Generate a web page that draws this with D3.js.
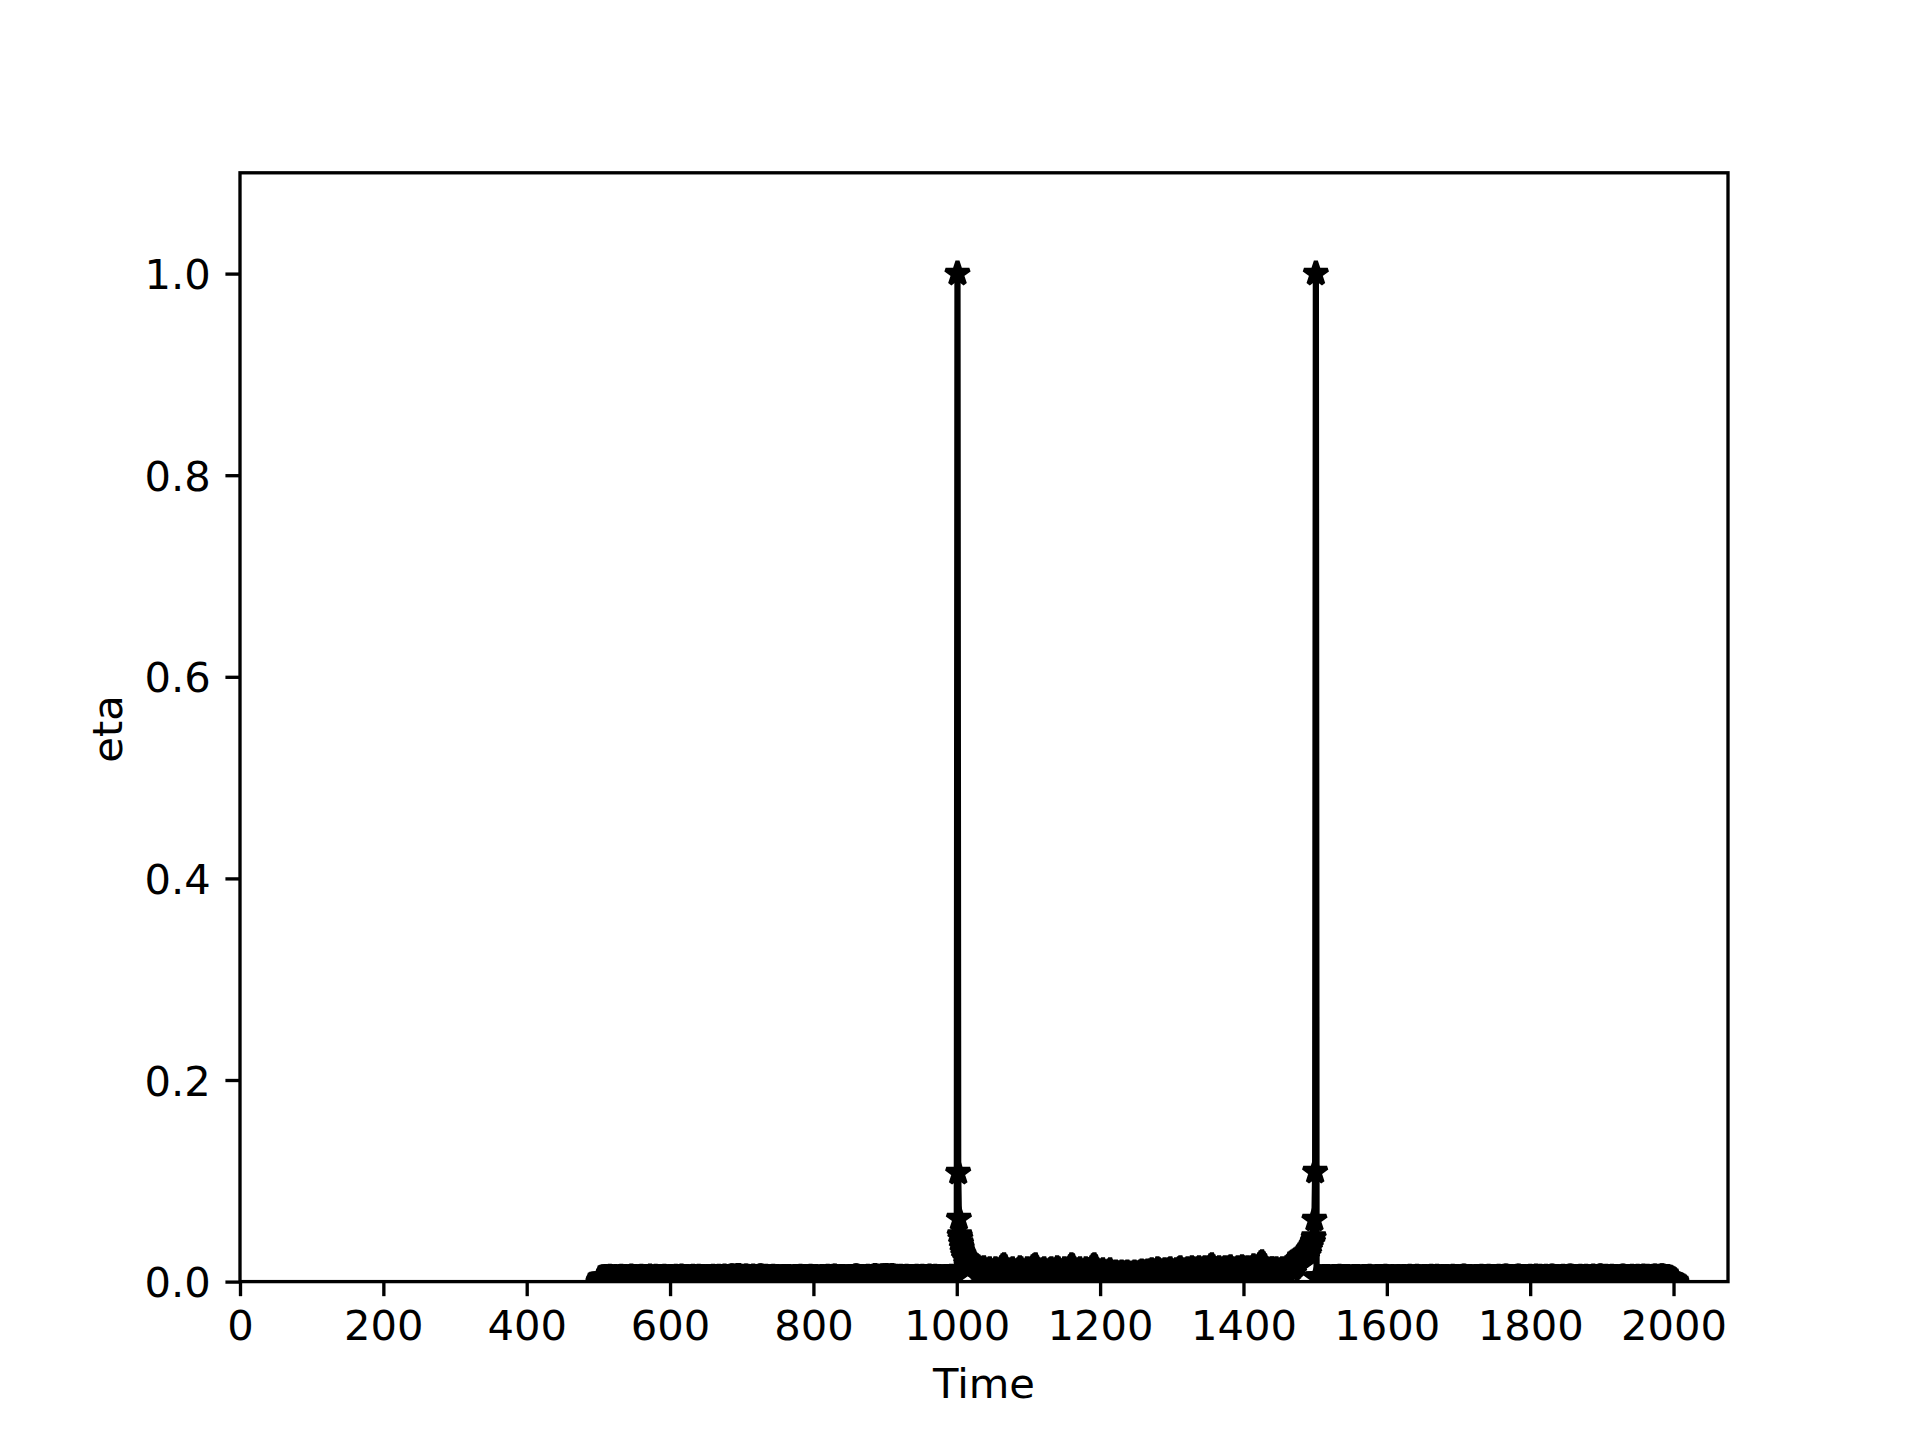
<!DOCTYPE html>
<html>
<head>
<meta charset="utf-8">
<script src="https://cdn.jsdelivr.net/npm/d3@7"></script>
<style>
body { margin: 0; background: #fff; }
text { font-family: "DejaVu Sans", sans-serif; fill: #000; }
</style>
</head>
<body>
<div id="chart"></div>
<script>
// segment before the first spike: t = 500, 502, ... 998
const etaAStart = 500, etaAStep = 2;
const etaA = [
  0, .0031, .0038, .0042, .0040, .0044, .0039, .0041, .0046, .0043, .0038, .0042, .0045, .0040, .0037, .0043, .0047, .0041, .0039, .0044, .0042, .0038, .0045, .0049, .0043,
  .0040, .0044, .0041, .0037, .0043, .0046, .0042, .0039, .0044, .0040, .0045, .0048, .0042, .0038, .0041, .0046, .0043, .0040, .0044, .0039, .0042, .0047, .0044, .0040, .0038,
  .0043, .0045, .0041, .0039, .0046, .0042, .0040, .0044, .0048, .0043, .0039, .0041, .0045, .0042, .0038, .0044, .0047, .0043, .0040, .0042, .0046, .0041, .0039, .0044, .0042,
  .0040, .0045, .0043, .0039, .0042, .0047, .0044, .0040, .0043, .0046, .0042, .0038, .0044, .0049, .0045, .0041, .0043, .0047, .0051, .0048, .0044, .0046, .0053, .0055, .0049,
  .0045, .0042, .0046, .0050, .0047, .0043, .0041, .0045, .0048, .0044, .0040, .0043, .0047, .0052, .0049, .0045, .0042, .0046, .0044, .0041, .0039, .0043, .0046, .0042, .0040,
  .0044, .0041, .0038, .0042, .0045, .0043, .0039, .0041, .0044, .0040, .0037, .0042, .0045, .0041, .0039, .0043, .0046, .0042, .0040, .0044, .0041, .0038, .0043, .0047, .0044,
  .0041, .0039, .0043, .0040, .0037, .0042, .0045, .0041, .0038, .0044, .0047, .0043, .0040, .0042, .0046, .0049, .0045, .0041, .0039, .0043, .0040, .0044, .0042, .0038, .0041,
  .0045, .0043, .0040, .0044, .0048, .0052, .0047, .0043, .0041, .0045, .0042, .0039, .0044, .0046, .0043, .0040, .0045, .0049, .0053, .0050, .0046, .0043, .0047, .0051, .0048,
  .0052, .0055, .0050, .0046, .0049, .0053, .0048, .0044, .0047, .0045, .0042, .0046, .0043, .0040, .0044, .0047, .0043, .0041, .0045, .0042, .0039, .0043, .0046, .0044, .0041,
  .0043, .0047, .0044, .0040, .0042, .0045, .0048, .0044, .0041, .0043, .0046, .0042, .0039, .0044, .0041, .0038, .0042, .0045, .0043, .0040, .0044, .0046, .0042, .0040, .0043
];

// first spike and its decay
const spike1Time = [1000, 1001, 1002, 1003, 1004, 1005, 1006, 1007, 1008, 1009, 1010, 1012, 1014, 1016, 1018, 1020, 1022, 1024];
const spike1Eta  = [.0046, 1.0, .108, .0625, .046, .043, .038, .034, .030, .027, .024, .022, .021, .019, .020, .018, .017, .019];

// segment between the spikes: t = 1026, 1028, ... 1466
const etaBStart = 1026, etaBStep = 2;
const etaB = [
  .016, .015, .014, .012, .010, .011, .013, .010, .009, .011, .012, .010, .009, .010, .012, .011, .009, .010, .013, .015,
  .016, .014, .011, .010, .009, .011, .012, .010, .009, .010, .011, .013, .012, .010, .009, .010, .012, .011, .010, .012,
  .014, .015, .016, .013, .011, .010, .009, .011, .012, .010, .009, .010, .011, .012, .010, .009, .011, .013, .012, .010,
  .009, .010, .012, .011, .010, .012, .014, .016, .015, .012, .010, .009, .011, .012, .010, .009, .010, .012, .011, .010,
  .011, .013, .015, .016, .014, .011, .010, .009, .010, .011, .009, .008, .009, .010, .011, .009, .008, .008, .009, .008,
  .007, .008, .009, .008, .007, .008, .009, .008, .007, .007, .008, .009, .008, .007, .008, .009, .010, .009, .008, .009,
  .010, .009, .010, .011, .010, .009, .010, .012, .011, .010, .009, .010, .011, .010, .009, .011, .012, .010, .009, .010,
  .011, .010, .012, .013, .011, .010, .009, .011, .012, .010, .011, .013, .012, .010, .011, .012, .013, .011, .010, .012,
  .013, .012, .011, .013, .015, .016, .014, .012, .011, .012, .013, .011, .010, .012, .013, .012, .011, .013, .014, .012,
  .011, .010, .012, .013, .011, .012, .014, .013, .011, .012, .013, .012, .011, .013, .015, .013, .012, .014, .016, .018,
  .019, .017, .015, .012, .011, .010, .011, .012, .010, .011, .012, .010, .009, .011, .012, .010, .011, .013, .014, .013, .012
];

// rise into the second spike
const spike2Time = [1468, 1470, 1472, 1474, 1476, 1478, 1480, 1482, 1484, 1486, 1488, 1490, 1492, 1494, 1496, 1497, 1498, 1499, 1500, 1501];
const spike2Eta  = [.013, .015, .016, .018, .021, .024, .025, .026, .027, .028, .029, .031, .033, .035, .038, .040, .044, .0615, .109, 1.0];

// segment after the second spike: t = 1502, 1504, ... 2004
const etaCStart = 1502, etaCStep = 2;
const etaC = [
  .0040, .0043, .0041, .0038, .0042, .0045, .0041, .0039, .0043, .0040, .0037, .0042, .0044, .0041, .0038, .0043, .0046, .0042, .0040, .0044, .0041, .0039, .0043, .0040, .0038,
  .0042, .0045, .0041, .0039, .0043, .0040, .0037, .0041, .0044, .0042, .0039, .0043, .0046, .0042, .0040, .0038, .0042, .0045, .0041, .0039, .0043, .0040, .0044, .0047, .0043,
  .0040, .0042, .0039, .0043, .0041, .0038, .0042, .0045, .0042, .0039, .0041, .0044, .0040, .0038, .0043, .0046, .0042, .0039, .0041, .0044, .0047, .0043, .0040, .0042, .0039,
  .0043, .0045, .0041, .0039, .0044, .0047, .0043, .0040, .0042, .0046, .0043, .0039, .0041, .0045, .0042, .0040, .0044, .0041, .0038, .0042, .0046, .0043, .0040, .0044, .0041,
  .0039, .0043, .0046, .0049, .0045, .0042, .0040, .0044, .0041, .0038, .0042, .0045, .0043, .0040, .0044, .0047, .0043, .0041, .0039, .0043, .0046, .0042, .0040, .0044, .0042,
  .0040, .0043, .0046, .0042, .0039, .0044, .0047, .0050, .0046, .0043, .0041, .0045, .0042, .0040, .0043, .0046, .0048, .0044, .0041, .0043, .0045, .0042, .0039, .0043, .0046,
  .0043, .0041, .0045, .0048, .0044, .0042, .0046, .0043, .0040, .0044, .0047, .0043, .0041, .0045, .0049, .0046, .0043, .0041, .0044, .0042, .0039, .0043, .0046, .0044, .0041,
  .0044, .0047, .0050, .0046, .0043, .0045, .0042, .0040, .0044, .0047, .0044, .0041, .0043, .0046, .0043, .0040, .0042, .0045, .0048, .0044, .0041, .0044, .0047, .0051, .0047,
  .0044, .0042, .0046, .0043, .0040, .0044, .0047, .0043, .0041, .0045, .0042, .0039, .0043, .0046, .0049, .0045, .0042, .0044, .0041, .0043, .0046, .0043, .0040, .0044, .0047,
  .0044, .0041, .0045, .0048, .0044, .0042, .0046, .0043, .0040, .0044, .0047, .0050, .0046, .0043, .0045, .0048, .0052, .0049, .0045, .0042, .0044, .0040, .0036, .0030, .0022,
  .0012, .0000
];

const xTicks = [0, 200, 400, 600, 800, 1000, 1200, 1400, 1600, 1800, 2000];
const yTicks = [0, 0.2, 0.4, 0.6, 0.8, 1.0];
const xLabel = "Time", yLabel = "eta";

// matplotlib defaults at 300 dpi: 1pt = 300/72 px
const pt = 300 / 72;
const W = 1920, H = 1440;
const margin = { left: 240, right: 1728, top: 172.8, bottom: 1281.6 };

const x = d3.scaleLinear().domain([0, 2076]).range([margin.left, margin.right]);
const y = d3.scaleLinear().domain([0, 1.1]).range([margin.bottom, margin.top]);

// put the pieces together in time order
let data = [];
etaA.forEach((v, i) => data.push({ t: etaAStart + i * etaAStep, eta: v }));
spike1Time.forEach((t, i) => data.push({ t: t, eta: spike1Eta[i] }));
etaB.forEach((v, i) => data.push({ t: etaBStart + i * etaBStep, eta: v }));
spike2Time.forEach((t, i) => data.push({ t: t, eta: spike2Eta[i] }));
etaC.forEach((v, i) => data.push({ t: etaCStart + i * etaCStep, eta: v }));
data.sort((a, b) => a.t - b.t);

const svg = d3.select("#chart").append("svg")
    .attr("width", W)
    .attr("height", H)
    .style("display", "block");

svg.append("rect").attr("width", W).attr("height", H).attr("fill", "#fff");

svg.append("clipPath").attr("id", "plotClip")
  .append("rect")
    .attr("x", margin.left).attr("y", margin.top)
    .attr("width", margin.right - margin.left).attr("height", margin.bottom - margin.top);

const plot = svg.append("g").attr("clip-path", "url(#plotClip)");

const line = d3.line()
    .x(d => x(d.t))
    .y(d => y(d.eta));

plot.append("path")
    .datum(data)
    .attr("fill", "none")
    .attr("stroke", "#000")
    .attr("stroke-width", 1.5 * pt)
    .attr("stroke-linejoin", "round")
    .attr("d", line);

// star markers, markersize 6pt
const r = 3 * pt;
const star = d3.symbol().type(d3.symbolStar).size(r * r / 0.8908130915292852);
plot.selectAll(".mk")
    .data(data)
    .enter()
    .append("path")
    .attr("class", "mk")
    .attr("transform", d => `translate(${x(d.t)},${y(d.eta)})`)
    .attr("d", star)
    .attr("fill", "#000")
    .attr("stroke", "#000")
    .attr("stroke-width", 1 * pt)
    .attr("stroke-linejoin", "bevel");

// axes
const tickLen = 3.5 * pt, tickPad = 3.5 * pt, fontPx = 10 * pt;

const gx = svg.append("g")
    .attr("transform", `translate(0,${margin.bottom})`)
    .call(d3.axisBottom(x).tickValues(xTicks).tickFormat(d3.format("d"))
        .tickSize(tickLen).tickPadding(tickPad));
const gy = svg.append("g")
    .attr("transform", `translate(${margin.left},0)`)
    .call(d3.axisLeft(y).tickValues(yTicks).tickFormat(d3.format(".1f"))
        .tickSize(tickLen).tickPadding(tickPad));

[gx, gy].forEach(g => {
    g.select(".domain").remove();
    g.selectAll(".tick line").attr("stroke", "#000").attr("stroke-width", 0.8 * pt);
    g.selectAll(".tick text")
        .attr("fill", "#000")
        .style("font-size", fontPx + "px")
        .style("font-family", "'DejaVu Sans', sans-serif");
});
gy.selectAll(".tick text").attr("dy", "0.36em");

// spines
svg.append("rect")
    .attr("x", margin.left).attr("y", margin.top)
    .attr("width", margin.right - margin.left).attr("height", margin.bottom - margin.top)
    .attr("fill", "none")
    .attr("stroke", "#000")
    .attr("stroke-width", 0.8 * pt)
    .attr("stroke-linecap", "square");

svg.append("text")
    .attr("x", (margin.left + margin.right) / 2)
    .attr("y", 1398)
    .attr("text-anchor", "middle")
    .style("font-size", fontPx + "px")
    .text(xLabel);

svg.append("text")
    .attr("transform", `translate(122,729) rotate(-90)`)
    .attr("text-anchor", "middle")
    .style("font-size", fontPx + "px")
    .text(yLabel);
</script>
</body>
</html>
